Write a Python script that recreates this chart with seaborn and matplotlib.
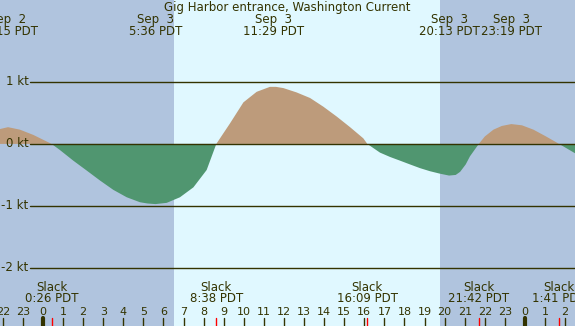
import matplotlib
matplotlib.use("Agg")
import matplotlib.pyplot as plt
import matplotlib.transforms as mtransforms
import pandas as pd
import seaborn as sns

# current speed (hours after Sep 3 00:00 PDT, knots)
hours = [-2.14, -1.74, -1.15, -0.48, 0.43, 0.85, 1.51, 2.18, 2.84, 3.50,
         4.17, 4.83, 5.20, 5.60, 6.16, 6.82, 7.49, 8.15, 8.63,
         9.31, 9.98, 10.64, 11.30, 11.60, 11.97, 12.63, 13.30, 13.96, 14.63,
         15.29, 15.95, 16.15,
         16.78, 17.28, 17.78, 18.27, 18.77, 19.27, 19.77, 20.22, 20.55, 20.77,
         21.05, 21.26, 21.70, 22.00, 22.43, 22.85, 23.32, 23.85, 24.42, 25.05,
         25.70, 26.49]
speed = [0.24, 0.27, 0.23, 0.145, 0.0, -0.10, -0.27, -0.43, -0.59, -0.74,
         -0.86, -0.94, -0.96, -0.97, -0.95, -0.86, -0.70, -0.42, 0.0,
         0.33, 0.67, 0.84, 0.92, 0.92, 0.90, 0.83, 0.74, 0.60, 0.44,
         0.27, 0.09, 0.0,
         -0.14, -0.21, -0.27, -0.33, -0.39, -0.44, -0.48, -0.51, -0.50, -0.45,
         -0.33, -0.20, 0.0, 0.12, 0.23, 0.29, 0.32, 0.30, 0.23, 0.12,
         0.0, -0.15]

# max current events (top labels)
max_dates = ["Sep  2", "Sep  3", "Sep  3", "Sep  3", "Sep  3"]
max_times = ["22:15", "5:36", "11:29", "20:13", "23:19"]
max_day = [-1, 0, 0, 0, 0]
# slack events (bottom labels)
slack_times = ["0:26", "8:38", "16:09", "21:42", "1:41"]
slack_day = [0, 0, 0, 0, 1]

sunrise = 6.52
sunset = 19.77
hour_ticks = list(range(-2, 27))
kt_levels = [1, 0, -1, -2]

def to_h(t, d):
    hh, mm = t.split(":")
    return d * 24 + int(hh) + int(mm) / 60

df = pd.DataFrame({"h": hours, "kt": speed})

sns.set_theme(style="white")
plt.rcParams["font.family"] = ["DejaVu Sans"]
ink = "#333300"

fig = plt.figure(figsize=(5.75, 3.26), dpi=100)
ax = fig.add_axes([0, 0, 1, 1])
ax.set_xlim(-2.14, 26.49)
ax.set_ylim(-2.935, 2.32)
ax.set_facecolor("#b0c4de")
ax.axvspan(sunrise, sunset, color="#e0f8ff", lw=0, zorder=0)

# flood above zero, ebb below
ax.fill_between(df.h, df.kt, 0, where=df.kt >= 0, color="#bd9b7b", lw=0,
                interpolate=True, zorder=2)
ax.fill_between(df.h, df.kt, 0, where=df.kt <= 0, color="#509670", lw=0,
                interpolate=True, zorder=2)
sns.lineplot(data=df, x="h", y="kt", ax=ax, color="#509670", lw=0, zorder=2)

for k in kt_levels:
    ax.axhline(k, xmin=30 / 575, color=ink, lw=1, zorder=3)
    ax.text(-0.72, k, f"{k} kt", ha="right", va="center", color=ink, fontsize=8.5)

tr = mtransforms.blended_transform_factory(ax.transData, ax.transAxes)
for h in hour_ticks:
    lw = 3 if h % 24 == 0 else 1
    ax.plot([h, h], [0, 0.025], transform=tr, color=ink, lw=lw, zorder=4)
    ax.text(h, 0.043, str(h % 24), transform=tr, ha="center", va="center",
            color=ink, fontsize=8)

for t, d in zip(slack_times, slack_day):
    h = to_h(t, d)
    ax.plot([h, h], [0, 0.025], transform=tr, color="red", lw=1, zorder=5)
    ax.text(h, 0.119, "Slack", transform=tr, ha="center", va="center",
            color=ink, fontsize=8.5)
    ax.text(h, 0.083, f"{t} PDT", transform=tr, ha="center", va="center",
            color=ink, fontsize=8.5)

for dt, t, d in zip(max_dates, max_times, max_day):
    h = to_h(t, d)
    ax.text(h, 0.940, dt, transform=tr, ha="center", va="center",
            color=ink, fontsize=8.5)
    ax.text(h, 0.903, f"{t} PDT", transform=tr, ha="center", va="center",
            color=ink, fontsize=8.5)

ax.text(0.5, 0.977, "Gig Harbor entrance, Washington Current", transform=ax.transAxes,
        ha="center", va="center", color=ink, fontsize=8.5)

ax.set_xticks([])
ax.set_yticks([])
ax.set_xlabel("")
ax.set_ylabel("")
for s in ax.spines.values():
    s.set_visible(False)

fig.savefig("out.png", dpi=100)
